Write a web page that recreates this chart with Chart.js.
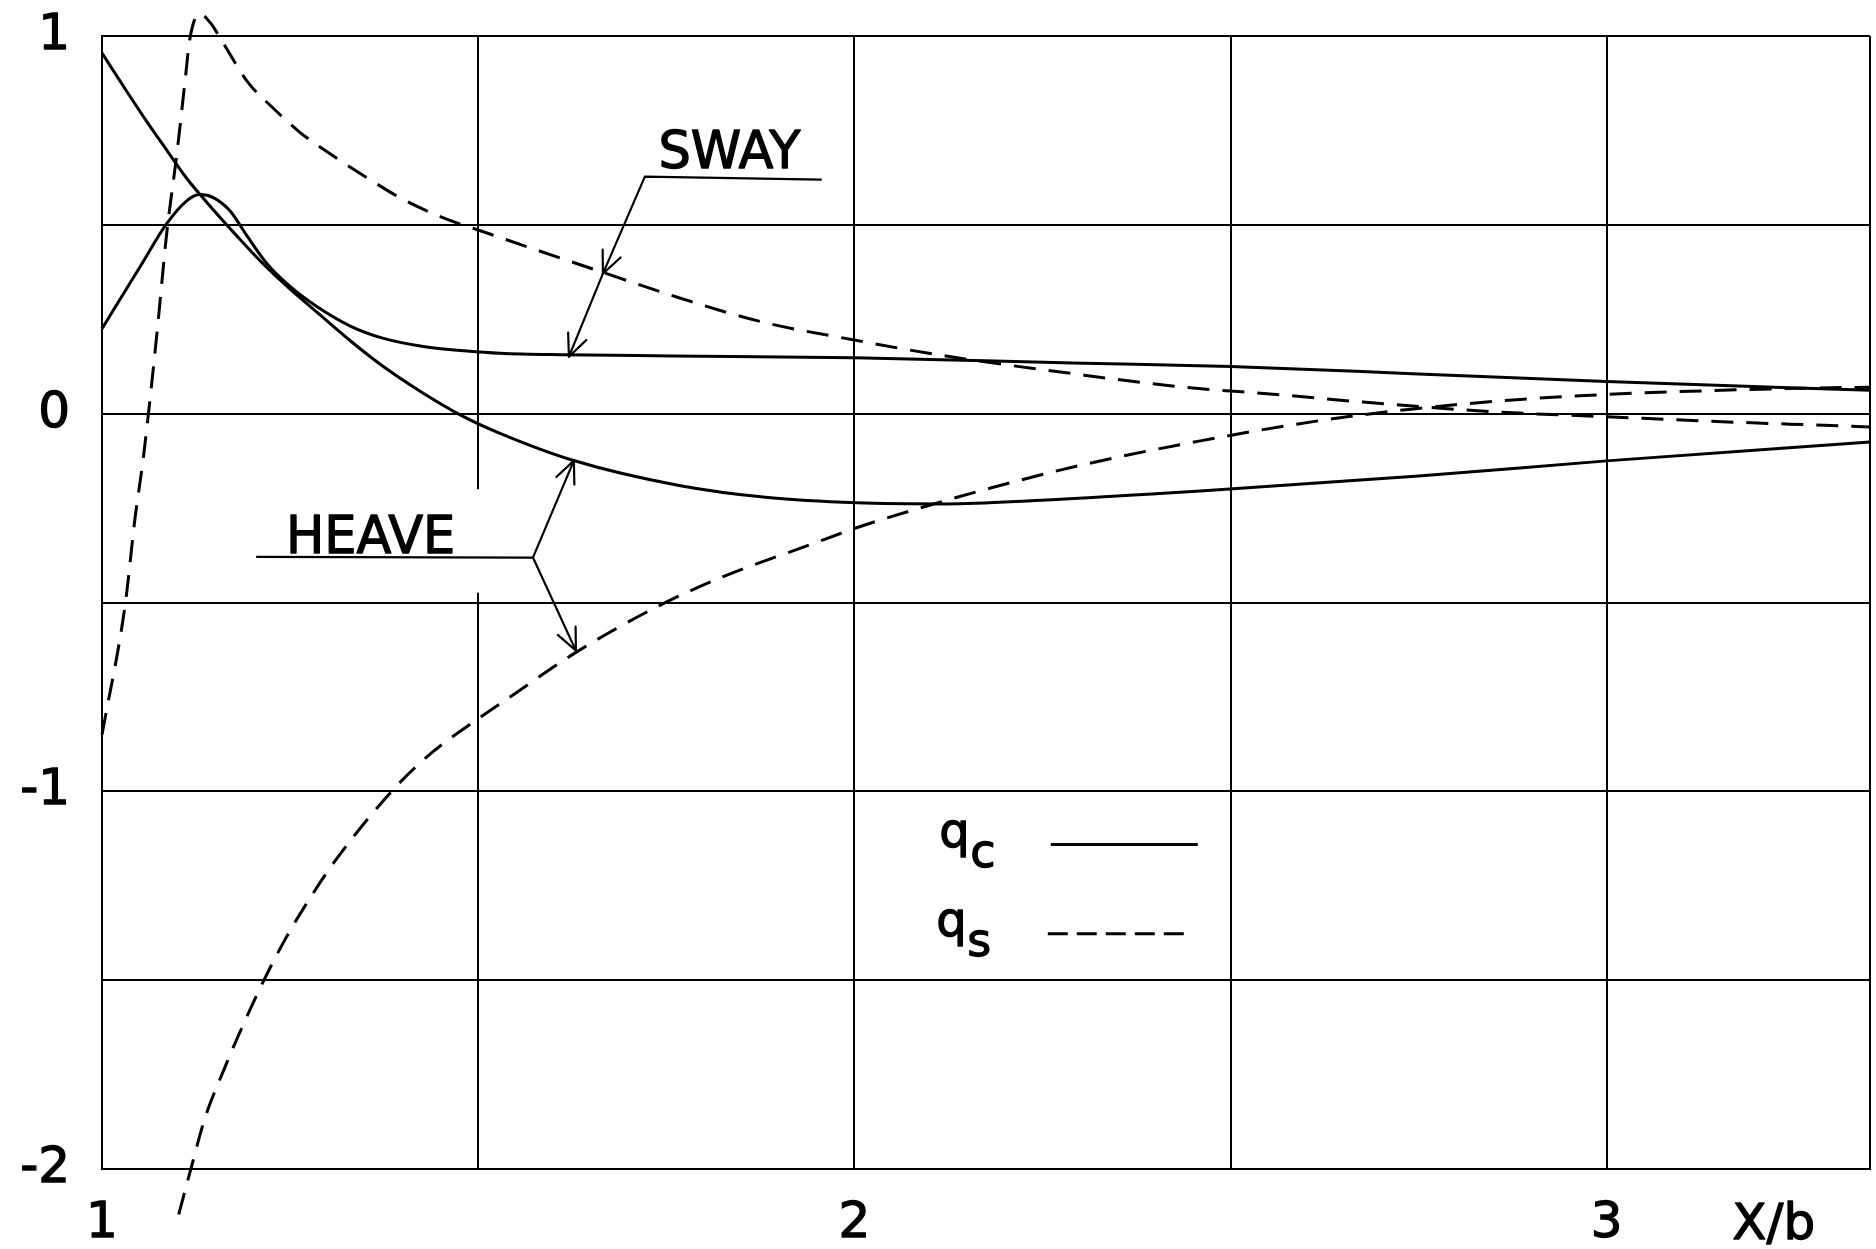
<!DOCTYPE html>
<html>
<head>
<meta charset="utf-8">
<title>Heave and sway pressure coefficients</title>
<script src="https://cdn.jsdelivr.net/npm/chart.js@4.4.1/dist/chart.umd.min.js"></script>
<style>
  html, body { margin: 0; padding: 0; background: #fff; }
  #chart { display: block; }
</style>
</head>
<body>
<canvas id="chart" width="1876" height="1249"></canvas>
<script>
// heave, q_c (solid)
const heaveQcX = [1.0, 1.033, 1.06, 1.086, 1.113, 1.14, 1.174, 1.21, 1.246, 1.286, 1.33, 1.373, 1.427, 1.476, 1.529,
                  1.627, 1.767, 1.885, 2.003, 2.122, 2.241, 2.46, 2.75, 3.0, 3.35];
const heaveQcY = [0.955, 0.853, 0.772, 0.698, 0.622, 0.558, 0.482, 0.405, 0.337, 0.268, 0.193, 0.126, 0.054, -0.003, -0.052,
                  -0.124, -0.19, -0.222, -0.236, -0.239, -0.23, -0.205, -0.165, -0.125, -0.075];

// sway, q_c (solid)
const swayQcX = [1.0, 1.05, 1.086, 1.113, 1.13, 1.148, 1.17, 1.193, 1.219, 1.25, 1.286, 1.33, 1.373, 1.427, 1.485,
                 1.529, 1.613, 1.758, 2.0, 2.173, 2.29, 2.5, 2.75, 3.0, 3.35];
const swayQcY = [0.225, 0.387, 0.503, 0.564, 0.58, 0.572, 0.537, 0.47, 0.398, 0.337, 0.283, 0.232, 0.2, 0.178, 0.166,
                 0.16, 0.156, 0.153, 0.148, 0.14, 0.134, 0.125, 0.105, 0.085, 0.062];

// sway, q_s (dashed)
const swayQsX = [1.0, 1.031, 1.044, 1.055, 1.073, 1.086, 1.1, 1.11, 1.117, 1.13, 1.144, 1.157, 1.193, 1.227, 1.263,
                 1.307, 1.352, 1.396, 1.453, 1.502, 1.657, 1.77, 1.877, 2.0, 2.114, 2.29, 2.434, 2.566, 2.68, 2.85,
                 3.0, 3.137, 3.35];
const swayQsY = [-0.85, -0.503, -0.275, -0.116, 0.212, 0.477, 0.696, 0.874, 0.995, 1.059, 1.035, 0.995, 0.88, 0.81, 0.745,
                 0.683, 0.625, 0.572, 0.519, 0.485, 0.38, 0.305, 0.243, 0.195, 0.155, 0.106, 0.071, 0.05, 0.03, 0.005,
                 -0.008, -0.02, -0.035];

// heave, q_s (dashed)
const heaveQsX = [1.102, 1.12, 1.137, 1.161, 1.185, 1.214, 1.244, 1.279, 1.315, 1.392, 1.44, 1.502, 1.541, 1.63, 1.736,
                  1.825, 1.944, 2.003, 2.092, 2.181, 2.3, 2.46, 2.62, 2.74, 2.88, 3.0, 3.137, 3.25, 3.35];
const heaveQsY = [-2.12, -1.986, -1.864, -1.742, -1.63, -1.505, -1.39, -1.275, -1.17, -0.985, -0.895, -0.805, -0.752, -0.632, -0.513,
                  -0.432, -0.345, -0.302, -0.247, -0.197, -0.137, -0.072, -0.018, 0.012, 0.037, 0.051, 0.061, 0.067, 0.07];

// labelled ticks
const xTickValues = [1, 2, 3];
const yTickValues = [1, 0, -1, -2];

const FONT = "'DejaVu Sans', 'Liberation Sans', sans-serif";
const DASH = [22, 13];

function toPoints(xs, ys) {
    return xs.map((x, i) => ({ x: x, y: ys[i] }));
}

function curve(label, xs, ys, dashed) {
    return {
        label: label,
        data: toPoints(xs, ys),
        borderColor: "#000",
        borderWidth: 3,
        borderDash: dashed ? DASH : [],
        pointRadius: 0,
        cubicInterpolationMode: "monotone",
        clip: false
    };
}

// text labels, leader lines and the small legend, all anchored in data units
const notes = {
    sway: { text: "SWAY", x: 1.834, y: 0.651 },
    swayLeader: [[1.9555, 0.6195], [1.7216, 0.6275], [1.6658, 0.3707], [1.6206, 0.1509]],
    heave: { text: "HEAVE", x: 1.357, y: -0.368 },
    heaveLine: [[1.206, -0.379], [1.5728, -0.381]],
    heaveTips: [[1.6272, -0.1244], [1.6299, -0.6275]],
    legend: [
        { sub: "c", x: 2.113, y: -1.141, lineFrom: 2.2611, lineTo: 2.4565, dash: [] },
        { sub: "s", x: 2.109, y: -1.377, lineFrom: 2.2571, lineTo: 2.4498, dash: [20, 9] }
    ],
    axisTitle: { text: "X/b", x: 3.222 },
    gridGap: { x: 1.5, from: -0.2, to: -0.474 }
};

function arrowHead(ctx, fx, fy, tx, ty) {
    const ang = Math.atan2(ty - fy, tx - fx);
    const len = 24, spread = 0.42;
    ctx.beginPath();
    ctx.moveTo(tx - len * Math.cos(ang - spread), ty - len * Math.sin(ang - spread));
    ctx.lineTo(tx, ty);
    ctx.lineTo(tx - len * Math.cos(ang + spread), ty - len * Math.sin(ang + spread));
    ctx.stroke();
}

// filled text with a thin outline so the strokes read like pen lettering
function penText(ctx, text, x, y) {
    ctx.fillText(text, x, y);
    ctx.lineWidth = 1.3;
    ctx.strokeText(text, x, y);
}

const notesPlugin = {
    id: "notes",
    beforeDatasetsDraw(chart) {
        // the 1.5 grid line is broken where the HEAVE leader runs
        const { ctx, scales: { x, y } } = chart;
        const g = notes.gridGap;
        ctx.save();
        ctx.strokeStyle = "#fff";
        ctx.lineWidth = 5;
        ctx.beginPath();
        ctx.moveTo(x.getPixelForValue(g.x), y.getPixelForValue(g.from));
        ctx.lineTo(x.getPixelForValue(g.x), y.getPixelForValue(g.to));
        ctx.stroke();
        ctx.restore();
    },
    afterDatasetsDraw(chart) {
        const { ctx, scales: { x, y }, chartArea } = chart;
        const px = v => x.getPixelForValue(v);
        const py = v => y.getPixelForValue(v);
        const pt = p => [px(p[0]), py(p[1])];

        ctx.save();
        ctx.fillStyle = "#000";
        ctx.strokeStyle = "#000";
        ctx.lineCap = "round";
        ctx.lineJoin = "round";

        // SWAY label with its leader to both sway curves
        ctx.font = "51px " + FONT;
        ctx.textAlign = "center";
        ctx.textBaseline = "alphabetic";
        penText(ctx, notes.sway.text, px(notes.sway.x), py(notes.sway.y));

        const sw = notes.swayLeader.map(pt);
        ctx.lineWidth = 2.2;
        ctx.beginPath();
        ctx.moveTo(sw[0][0], sw[0][1]);
        for (let i = 1; i < sw.length; i++) ctx.lineTo(sw[i][0], sw[i][1]);
        ctx.stroke();
        arrowHead(ctx, sw[1][0], sw[1][1], sw[2][0], sw[2][1]);
        arrowHead(ctx, sw[2][0], sw[2][1], sw[3][0], sw[3][1]);

        // HEAVE label, underline and a fork to both heave curves
        penText(ctx, notes.heave.text, px(notes.heave.x), py(notes.heave.y));
        const hl = notes.heaveLine.map(pt);
        ctx.lineWidth = 2.2;
        ctx.beginPath();
        ctx.moveTo(hl[0][0], hl[0][1]);
        ctx.lineTo(hl[1][0], hl[1][1]);
        ctx.stroke();
        notes.heaveTips.map(pt).forEach(tip => {
            ctx.beginPath();
            ctx.moveTo(hl[1][0], hl[1][1]);
            ctx.lineTo(tip[0], tip[1]);
            ctx.stroke();
            arrowHead(ctx, hl[1][0], hl[1][1], tip[0], tip[1]);
        });

        // legend: q with subscript, then a sample of the line style
        ctx.textAlign = "left";
        notes.legend.forEach(item => {
            const lx = px(item.x), ly = py(item.y);
            ctx.font = "48px " + FONT;
            penText(ctx, "q", lx, ly + 2);
            ctx.font = "46px " + FONT;
            penText(ctx, item.sub, lx + 31, ly + 22);
            ctx.lineWidth = 3;
            ctx.setLineDash(item.dash);
            ctx.lineCap = "butt";
            ctx.beginPath();
            ctx.moveTo(px(item.lineFrom), ly);
            ctx.lineTo(px(item.lineTo), ly);
            ctx.stroke();
            ctx.setLineDash([]);
            ctx.lineCap = "round";
        });

        // x axis title
        ctx.font = "50px " + FONT;
        ctx.textAlign = "center";
        penText(ctx, notes.axisTitle.text, px(notes.axisTitle.x), chartArea.bottom + 70);

        ctx.restore();
    }
};

const tickFont = { family: FONT, size: 50 };

new Chart(document.getElementById("chart"), {
    type: "line",
    data: {
        datasets: [
            curve("heave q_c", heaveQcX, heaveQcY, false),
            curve("sway q_c", swayQcX, swayQcY, false),
            curve("sway q_s", swayQsX, swayQsY, true),
            curve("heave q_s", heaveQsX, heaveQsY, true)
        ]
    },
    options: {
        responsive: false,
        animation: false,
        devicePixelRatio: 1,
        layout: { padding: { top: 36, right: 6, bottom: 0, left: 0 } },
        plugins: {
            legend: { display: false },
            tooltip: { enabled: false }
        },
        scales: {
            x: {
                type: "linear",
                min: 1,
                max: 3.35,
                afterFit: scale => {
                    scale.height = 80;
                    scale.paddingLeft = 0;
                    scale.paddingRight = 0;
                },
                ticks: {
                    stepSize: 0.5,
                    autoSkip: false,
                    maxRotation: 0,
                    padding: 25,
                    color: "#000",
                    textStrokeColor: "#000",
                    textStrokeWidth: 1.3,
                    font: tickFont,
                    callback: v => xTickValues.includes(v) ? String(v) : ""
                },
                grid: { color: "#000", lineWidth: 2, drawTicks: false },
                border: { color: "#000", width: 2 }
            },
            y: {
                type: "linear",
                min: -2,
                max: 1,
                afterFit: scale => {
                    scale.width = 102;
                    scale.paddingTop = 0;
                    scale.paddingBottom = 0;
                },
                ticks: {
                    stepSize: 0.5,
                    autoSkip: false,
                    padding: 32,
                    color: "#000",
                    textStrokeColor: "#000",
                    textStrokeWidth: 1.3,
                    font: tickFont,
                    callback: v => yTickValues.includes(v) ? String(v) : ""
                },
                grid: { color: "#000", lineWidth: 2, drawTicks: false },
                border: { color: "#000", width: 2 }
            }
        }
    },
    plugins: [notesPlugin]
});
</script>
</body>
</html>
